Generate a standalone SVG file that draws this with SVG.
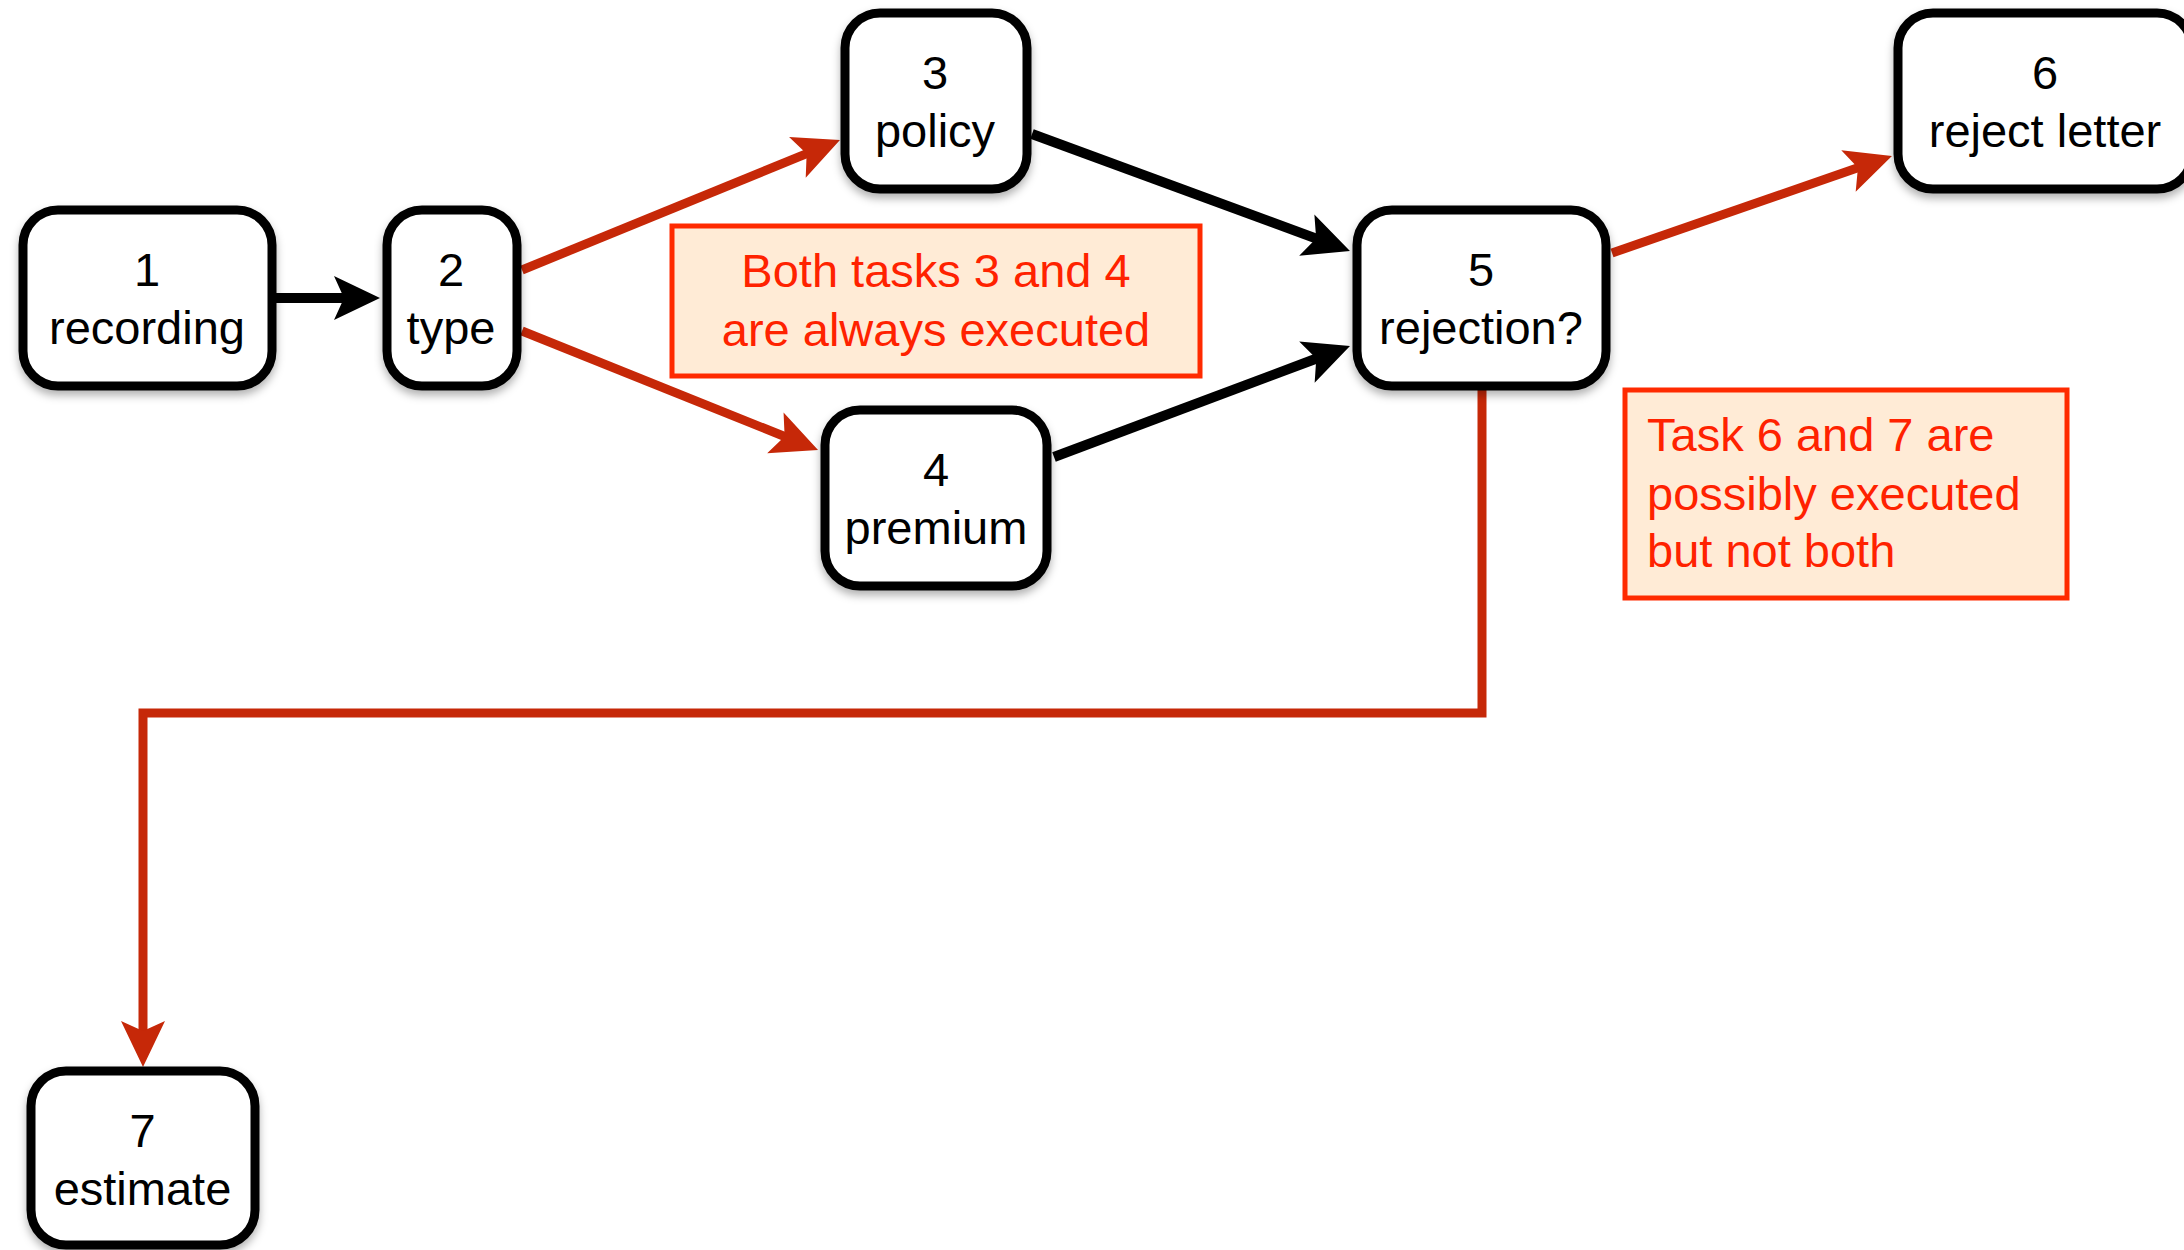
<svg xmlns="http://www.w3.org/2000/svg" width="2184" height="1250" viewBox="0 0 2184 1250">
<defs>
<filter id="sh" x="-10%" y="-10%" width="130%" height="130%">
<feDropShadow dx="0" dy="5" stdDeviation="4" flood-color="#000" flood-opacity="0.3"/>
</filter>
<marker id="ab" markerUnits="userSpaceOnUse" viewBox="-20 -25 55 50" markerWidth="55" markerHeight="50" refX="0" refY="0" orient="auto" overflow="visible">
<path d="M30,0 L-16,-22 L-6,0 L-16,22 Z" fill="#000"/>
</marker>
<marker id="ar" markerUnits="userSpaceOnUse" viewBox="-20 -25 55 50" markerWidth="55" markerHeight="50" refX="0" refY="0" orient="auto" overflow="visible">
<path d="M30,0 L-16,-22 L-6,0 L-16,22 Z" fill="#C62808"/>
</marker>
</defs>
<style>
.box{fill:#fff;stroke:#000;stroke-width:9;filter:url(#sh)}
.lbl{font-family:"Liberation Sans",Arial,sans-serif;font-size:47px;fill:#000;text-anchor:middle}
.blk{fill:none;stroke:#000;stroke-width:10}
.red{fill:none;stroke:#C62808;stroke-width:9}
.note{fill:#FFEBD6;stroke:#FF2A00;stroke-width:5}
.ntxt{font-family:"Liberation Sans",Arial,sans-serif;font-size:47px;fill:#FF2200}
</style>
<g id="connectors">
<line class="blk" x1="275" y1="298" x2="350" y2="298" marker-end="url(#ab)"/>
<line class="red" x1="522" y1="270" x2="812.2" y2="151.4" marker-end="url(#ar)"/>
<line class="red" x1="522" y1="331" x2="790.2" y2="438.8" marker-end="url(#ar)"/>
<line class="blk" x1="1032" y1="134" x2="1321.8" y2="240.6" marker-end="url(#ab)"/>
<line class="blk" x1="1054" y1="457" x2="1321.9" y2="356.5" marker-end="url(#ab)"/>
<line class="red" x1="1612" y1="253" x2="1863.6" y2="165.8" marker-end="url(#ar)"/>
<path class="red" d="M1482,389 V713 H143 V1037" marker-end="url(#ar)"/>
</g>
<g id="n1"><rect class="box" x="23" y="210" width="249" height="176" rx="35"/>
<text class="lbl" x="147" y="286">1</text><text class="lbl" x="147" y="344">recording</text></g>
<g id="n2"><rect class="box" x="387" y="210" width="130" height="176" rx="35"/>
<text class="lbl" x="451" y="286">2</text><text class="lbl" x="451" y="344">type</text></g>
<g id="n3"><rect class="box" x="845" y="13" width="182" height="176" rx="35"/>
<text class="lbl" x="935" y="89">3</text><text class="lbl" x="935" y="147">policy</text></g>
<g id="n4"><rect class="box" x="825" y="410" width="222" height="176" rx="35"/>
<text class="lbl" x="936" y="486">4</text><text class="lbl" x="936" y="544">premium</text></g>
<g id="n5"><rect class="box" x="1357" y="210" width="249" height="176" rx="35"/>
<text class="lbl" x="1481" y="286">5</text><text class="lbl" x="1481" y="344">rejection?</text></g>
<g id="n6"><rect class="box" x="1898" y="13" width="294" height="176" rx="35"/>
<text class="lbl" x="2045" y="89">6</text><text class="lbl" x="2045" y="147">reject letter</text></g>
<g id="n7"><rect class="box" x="31" y="1071" width="224" height="174" rx="35"/>
<text class="lbl" x="142.5" y="1147">7</text><text class="lbl" x="142.5" y="1205">estimate</text></g>
<g id="note1"><rect class="note" x="672" y="226" width="528" height="150"/>
<text class="ntxt" x="936" y="287" text-anchor="middle">Both tasks 3 and 4</text>
<text class="ntxt" x="936" y="346" text-anchor="middle">are always executed</text></g>
<g id="note2"><rect class="note" x="1625" y="390" width="442" height="208"/>
<text class="ntxt" x="1647" y="451">Task 6 and 7 are</text>
<text class="ntxt" x="1647" y="510">possibly executed</text>
<text class="ntxt" x="1647" y="567">but not both</text></g>
</svg>
